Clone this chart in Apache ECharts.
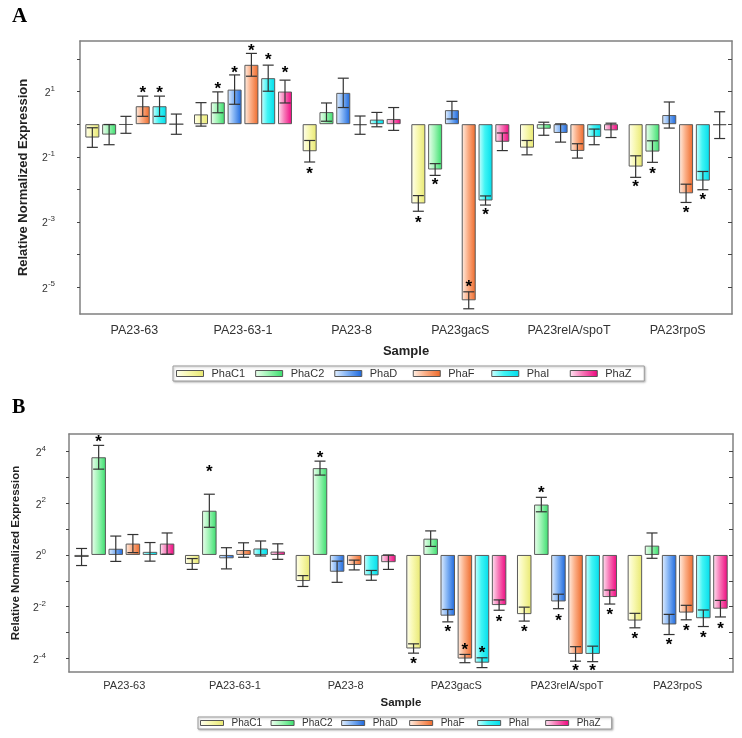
<!DOCTYPE html>
<html><head><meta charset="utf-8">
<script src="https://cdn.jsdelivr.net/npm/echarts@6/dist/echarts.min.js"></script>
<style>html,body{margin:0;padding:0;background:#fff}#main{width:742px;height:738px}</style>
</head><body><div id="main"></div>
<script>
// ---------- DATA ----------
const categories = ['PA23-63', 'PA23-63-1', 'PA23-8', 'PA23gacS', 'PA23relA/spoT', 'PA23rpoS'];
const genes = ['PhaC1', 'PhaC2', 'PhaD', 'PhaF', 'PhaI', 'PhaZ'];

// Panel A: log2 relative normalized expression, one row per gene (columns = samples)
const valuesA = [
  [-0.41, 0.30, -0.83, -2.43, -0.72, -1.30],
  [-0.32, 0.67, 0.37, -1.39, -0.14, -0.84],
  [-0.02, 1.06, 0.96, 0.43, -0.27, 0.28],
  [0.55, 1.82, -0.03, -5.40, -0.82, -2.12],
  [0.55, 1.41, 0.14, -2.34, -0.39, -1.73],
  [0.00, 1.00, 0.16, -0.54, -0.19, -0.03]
];
const errorsA = [
  [0.30, 0.36, 0.33, 0.24, 0.22, 0.33],
  [0.31, 0.32, 0.28, 0.18, 0.20, 0.33],
  [0.26, 0.45, 0.45, 0.27, 0.28, 0.40],
  [0.31, 0.35, 0.28, 0.26, 0.22, 0.28],
  [0.31, 0.40, 0.22, 0.14, 0.24, 0.28],
  [0.31, 0.35, 0.35, 0.27, 0.22, 0.41]
];
// significance asterisks (log2 value where the * sits, null = none)
const starsA = [
  [null, null, -1.44, -2.92, null, -1.83],
  [null, 1.19, null, -1.76, null, -1.43],
  [null, 1.66, null, null, null, null],
  [1.04, 2.35, null, -4.88, null, -2.63],
  [1.04, 2.05, null, -2.69, null, -2.22],
  [null, 1.66, null, null, null, null]
];

// Panel B
const valuesB = [
  [-0.08, -0.35, -1.01, -3.62, -2.29, -2.54],
  [3.78, 1.71, 3.36, 0.63, 1.95, 0.36],
  [0.24, -0.13, -0.65, -2.35, -1.80, -2.69],
  [0.44, 0.19, -0.39, -4.01, -3.83, -2.23],
  [0.12, 0.25, -0.79, -4.17, -3.83, -2.45],
  [0.44, 0.13, -0.28, -1.94, -1.63, -2.08]
];
const errorsB = [
  [0.33, 0.21, 0.21, 0.18, 0.27, 0.28],
  [0.46, 0.64, 0.27, 0.30, 0.28, 0.49],
  [0.49, 0.41, 0.41, 0.24, 0.28, 0.39],
  [0.35, 0.28, 0.19, 0.16, 0.28, 0.28],
  [0.36, 0.29, 0.19, 0.19, 0.30, 0.32],
  [0.41, 0.30, 0.28, 0.20, 0.27, 0.32]
];
const starsB = [
  [null, null, null, -4.09, -2.85, -3.13],
  [4.48, 3.34, 3.88, null, 2.52, null],
  [null, null, null, -2.85, -2.42, -3.38],
  [null, null, null, -3.56, -4.36, -2.82],
  [null, null, null, -3.67, -4.36, -3.08],
  [null, null, null, -2.48, -2.20, -2.73]
];

// axis ranges and tick exponents
const yRangeA = [-5.82, 2.55];
const yTicksA = [-5, -4, -3, -2, -1, 0, 1, 2];
const yLabelsA = [-5, -3, -1, 1];
const yRangeB = [-4.53, 4.68];
const yTicksB = [-4, -3, -2, -1, 0, 1, 2, 3, 4];
const yLabelsB = [-4, -2, 0, 2, 4];

// ---------- STYLE ----------
const FONT = '"Liberation Sans", Arial, sans-serif';
const gradColors = [
  ['#fffff0', '#f8f8b0', '#e8e870'],
  ['#effff0', '#a0f4b6', '#38de6c'],
  ['#e4f0ff', '#84b4f4', '#1a66dc'],
  ['#fff0e6', '#fbae86', '#ee6828'],
  ['#d0ffff', '#40f4f4', '#00dceb'],
  ['#ffe6f3', '#f77ab8', '#ee047e']
];
function grad(c) {
  return new echarts.graphic.LinearGradient(0, 0, 1, 0, [
    { offset: 0, color: c[0] }, { offset: 0.45, color: c[1] }, { offset: 1, color: c[2] }
  ]);
}
const frameColor = '#808080';

const option = { animation: false, backgroundColor: '#fff', grid: [], xAxis: [], yAxis: [], series: [], legend: [], graphic: [] };

function buildPanel(p, cfg) {
  option.grid.push({ left: cfg.left, top: cfg.top, width: cfg.width, height: cfg.height });
  const axisLine = { show: true, onZero: false, lineStyle: { color: frameColor, width: 1.5 } };
  option.xAxis.push({
    type: 'category', gridIndex: p, data: categories, position: 'bottom',
    axisLine, axisTick: { alignWithLabel: true, length: 4, lineStyle: { color: '#444' } },
    axisLabel: { interval: 0, fontSize: cfg.catFont, color: '#333', margin: cfg.catMargin, fontFamily: FONT },
    name: 'Sample', nameLocation: 'middle', nameGap: cfg.xNameGap,
    nameTextStyle: { fontWeight: 'bold', fontSize: cfg.xNameFont, color: '#222', fontFamily: FONT },
    splitLine: { show: false }
  });
  option.xAxis.push({
    type: 'category', gridIndex: p, data: categories, position: 'top',
    axisLine, axisTick: { alignWithLabel: true, inside: true, length: 4, lineStyle: { color: '#444' } },
    axisLabel: { show: false }, splitLine: { show: false }
  });
  const supFmt = v => '{b|2}{s|' + v + '}';
  option.yAxis.push({
    type: 'value', gridIndex: p, position: 'left', min: cfg.range[0], max: cfg.range[1],
    axisLine, splitLine: { show: false },
    axisTick: { show: true, length: 3, customValues: cfg.ticks, lineStyle: { color: '#444' } },
    axisLabel: {
      customValues: cfg.labels, margin: cfg.yLabelMargin, formatter: supFmt,
      rich: {
        b: { fontSize: 10.5, color: '#333', fontFamily: FONT, lineHeight: 14, verticalAlign: 'bottom' },
        s: { fontSize: 8, color: '#333', fontFamily: FONT, lineHeight: 8, verticalAlign: 'top' }
      }
    },
    name: 'Relative Normalized Expression', nameLocation: 'middle', nameGap: cfg.yNameGap,
    nameTextStyle: { fontWeight: 'bold', fontSize: cfg.yNameFont, color: '#222', fontFamily: FONT }
  });
  option.yAxis.push({
    type: 'value', gridIndex: p, position: 'right', min: cfg.range[0], max: cfg.range[1],
    axisLine, splitLine: { show: false },
    axisTick: { show: true, inside: true, length: 4, customValues: cfg.ticks, lineStyle: { color: '#444' } },
    axisLabel: { show: false }
  });
  const xi = p * 2, yi = p * 2;
  genes.forEach((g, gi) => {
    option.series.push({
      type: 'bar', name: g, xAxisIndex: xi, yAxisIndex: yi,
      data: cfg.values[gi], barWidth: cfg.barWidth, barGap: cfg.barGap,
      itemStyle: { color: grad(gradColors[gi]), borderColor: '#5a5a5a', borderWidth: 1 },
      emphasis: { disabled: true }, z: 2
    });
  });
  const recs = [];
  genes.forEach((g, gi) => categories.forEach((c, ci) => {
    recs.push({ gi, ci, v: cfg.values[gi][ci], e: cfg.errors[gi][ci], s: cfg.stars[gi][ci] });
  }));
  const pitch = cfg.barWidth * (1 + parseFloat(cfg.barGap) / 100);
  option.series.push({
    type: 'custom', name: 'err' + p, xAxisIndex: xi, yAxisIndex: yi, z: 5,
    data: recs.map(r => [r.ci, r.v - r.e, r.v + r.e]),
    encode: { x: 0, y: [1, 2] },
    renderItem: (params, api) => {
      const r = recs[params.dataIndex];
      const x0 = api.coord([r.ci, 0])[0] + (r.gi - 2.5) * pitch;
      const yT = api.coord([r.ci, r.v + r.e])[1];
      const yB = api.coord([r.ci, r.v - r.e])[1];
      const st = { stroke: '#333', lineWidth: 1.2 };
      const cap = 5.5;
      const ch = [
        { type: 'line', shape: { x1: x0, y1: yT, x2: x0, y2: yB }, style: st },
        { type: 'line', shape: { x1: x0 - cap, y1: yT, x2: x0 + cap, y2: yT }, style: st },
        { type: 'line', shape: { x1: x0 - cap, y1: yB, x2: x0 + cap, y2: yB }, style: st }
      ];
      if (r.s !== null && r.s !== undefined) {
        ch.push({
          type: 'text', x: x0, y: api.coord([r.ci, r.s])[1] + cfg.starDy,
          style: { text: '*', font: 'bold ' + cfg.starFont + 'px ' + FONT, fill: '#000', align: 'center', verticalAlign: 'middle' }
        });
      }
      return { type: 'group', children: ch };
    }
  });
  option.legend.push({
    data: genes, left: cfg.legLeft, top: cfg.legTop, orient: 'horizontal', icon: 'rect',
    itemWidth: cfg.legIconW, itemHeight: cfg.legIconH, itemGap: cfg.legGap,
    padding: cfg.legPad, borderColor: '#9a9a9a', borderWidth: 1, backgroundColor: '#fff',
    shadowColor: 'rgba(0,0,0,0.25)', shadowBlur: 2, shadowOffsetX: 1, shadowOffsetY: 1,
    selectedMode: false,
    itemStyle: { borderColor: '#555', borderWidth: 1 },
    textStyle: { fontSize: cfg.legFont, color: '#333', fontFamily: FONT, width: cfg.legTextW, padding: [0, 0, 0, 3], lineHeight: cfg.legFont + 2 }
  });
  option.graphic.push({
    type: 'text', left: 12, top: cfg.letterTop,
    style: { text: cfg.letter, font: 'bold ' + cfg.letterFont + 'px "Liberation Serif", "Times New Roman", serif', fill: '#000' }
  });
}

buildPanel(0, {
  left: 80, top: 41, width: 652, height: 273,
  values: valuesA, errors: errorsA, stars: starsA,
  range: yRangeA, ticks: yTicksA, labels: yLabelsA,
  catFont: 12.5, catMargin: 10, xNameGap: 31, xNameFont: 13,
  yLabelMargin: 25, yNameGap: 50, yNameFont: 13,
  barWidth: 14, barGap: '20%', starFont: 17, starDy: 3.5,
  legLeft: 173, legTop: 366, legIconW: 27, legIconH: 6, legGap: 10, legPad: [1, 6, 1, 3], legFont: 11, legTextW: 33,
  letter: 'A', letterTop: 6, letterFont: 21
});
buildPanel(1, {
  left: 69, top: 434, width: 664, height: 238,
  values: valuesB, errors: errorsB, stars: starsB,
  range: yRangeB, ticks: yTicksB, labels: yLabelsB,
  catFont: 11, catMargin: 8, xNameGap: 25, xNameFont: 11.5,
  yLabelMargin: 23, yNameGap: 43, yNameFont: 11.5,
  barWidth: 14.5, barGap: '18%', starFont: 17, starDy: 3.5,
  legLeft: 198, legTop: 717, legIconW: 23, legIconH: 5, legGap: 8.5, legPad: [0, 7, 0, 2], legFont: 10, legTextW: 28,
  letter: 'B', letterTop: 398, letterFont: 20
});

const chart = echarts.init(document.getElementById('main'), null, { renderer: 'canvas' });
chart.setOption(option);
</script>
</body></html>
